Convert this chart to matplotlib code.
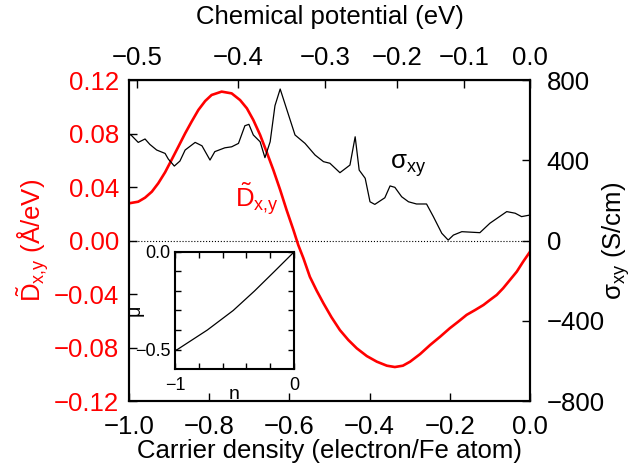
import numpy as np
import matplotlib
matplotlib.use("Agg")
import matplotlib.pyplot as plt

plt.rcParams['font.family'] = ['Liberation Sans', 'DejaVu Sans']
plt.rcParams['mathtext.fontset'] = 'custom'
plt.rcParams['mathtext.rm'] = 'Liberation Sans'
plt.rcParams['mathtext.it'] = 'Liberation Sans:italic'
plt.rcParams['axes.unicode_minus'] = True

# ---- data ----
# red curve: D~_{x,y} (A/eV) vs carrier density n
n_D = [-1.0, -0.977, -0.960, -0.943, -0.927, -0.910, -0.894, -0.877, -0.860, -0.844,
       -0.827, -0.810, -0.794, -0.769, -0.744, -0.723, -0.706, -0.690, -0.673, -0.657,
       -0.640, -0.623, -0.607, -0.590, -0.578, -0.565, -0.549, -0.532, -0.515, -0.495,
       -0.474, -0.453, -0.432, -0.407, -0.382, -0.357, -0.337, -0.317, -0.299, -0.274,
       -0.249, -0.224, -0.200, -0.179, -0.158, -0.137, -0.116, -0.100, -0.083, -0.067,
       -0.050, -0.033, -0.017, 0.0]
D_vals = [0.0278, 0.0290, 0.0320, 0.0365, 0.0428, 0.0510, 0.0602, 0.0701, 0.0801, 0.0888,
          0.0976, 0.1043, 0.1088, 0.1113, 0.1100, 0.1050, 0.0988, 0.0901, 0.0789, 0.0664,
          0.0527, 0.0378, 0.0228, 0.0079, -0.0033, -0.0133, -0.0271, -0.0375, -0.0470, -0.0574,
          -0.0670, -0.0744, -0.0806, -0.0864, -0.0906, -0.0936, -0.0946, -0.0936, -0.0906, -0.0849,
          -0.0781, -0.0719, -0.0656, -0.0607, -0.0556, -0.0520, -0.0482, -0.0445, -0.0407, -0.0357,
          -0.0295, -0.0233, -0.0158, -0.0084]

# black curve: sigma_xy (S/cm) vs carrier density n
n_sig = [-1.0, -0.995, -0.977, -0.960, -0.948, -0.931, -0.910, -0.902, -0.887, -0.873,
         -0.860, -0.835, -0.818, -0.798, -0.786, -0.761, -0.744, -0.727, -0.711, -0.701,
         -0.690, -0.673, -0.661, -0.648, -0.636, -0.623, -0.602, -0.586, -0.561,
         -0.536, -0.515, -0.499, -0.474, -0.449, -0.436, -0.426, -0.411, -0.399, -0.387,
         -0.362, -0.349, -0.337, -0.320, -0.303, -0.283, -0.258, -0.241, -0.220, -0.204,
         -0.191, -0.170, -0.125, -0.100, -0.058, -0.037, -0.021, 0.0]
sig_vals = [528, 526, 489, 506, 479, 451, 434, 406, 371, 396,
            451, 489, 472, 401, 443, 462, 467, 484, 572, 579,
            526, 492, 413, 492, 672, 755, 625, 526, 484,
            426, 393, 385, 338, 376, 517, 351, 310, 193, 180,
            213, 272, 265, 218, 193, 182, 182, 119, 36, 2,
            27, 44, 39, 86, 144, 136, 119, 127]

# inset: chemical potential mu (eV) vs carrier density n (also top-axis mapping)
n_mu = [-1.0, -0.98, -0.728, -0.511, -0.332, -0.165, 0.0]
mu_vals = [-0.505, -0.5, -0.4, -0.3, -0.2, -0.1, 0.0]

bottom_ticks = [-1.0, -0.8, -0.6, -0.4, -0.2, 0.0]
top_ticks = [-0.5, -0.4, -0.3, -0.2, -0.1, 0.0]
left_ticks = [-0.12, -0.08, -0.04, 0.0, 0.04, 0.08, 0.12]
right_ticks = [-800, -400, 0, 400, 800]

FS = 18.5
fig = plt.figure(figsize=(6.31, 4.73), dpi=100)
ax = fig.add_axes([129/631, 1-401/473, 401/631, 321/473])
ax.set_xlim(-1.0, 0.0)
ax.set_ylim(-0.12, 0.12)
ax.axhline(0, color='black', ls=':', lw=0.8, zorder=1)
ax.plot(n_D, D_vals, color='red', lw=1.9, zorder=3)
ax.set_xticks(bottom_ticks)
ax.set_xticklabels([f"{t:.1f}".replace('-', '\u2212') for t in bottom_ticks])
ax.set_yticks(left_ticks)
ax.set_yticklabels([f"{t:.2f}".replace('-', '\u2212') for t in left_ticks])
ax.tick_params(axis='both', direction='in', length=6, width=1, labelsize=FS)
ax.tick_params(axis='x', pad=10, top=False)
ax.tick_params(axis='y', labelcolor='red', pad=7, right=False)
ax.set_xlabel('Carrier density (electron/Fe atom)', fontsize=FS, labelpad=0)
ax.set_ylabel(r'$\tilde{\mathrm{D}}_{\mathrm{x{,}y}}$ (Å/eV)', color='red', fontsize=FS, labelpad=2)
for s in ax.spines.values():
    s.set_linewidth(1.5)

ax2 = ax.twinx()
ax2.set_ylim(-800, 800)
ax2.plot(n_sig, sig_vals, color='black', lw=0.9, zorder=2)
ax2.set_yticks(right_ticks)
ax2.set_yticklabels([str(t).replace('-', '\u2212') for t in right_ticks])
ax2.tick_params(axis='y', direction='in', length=6, width=1, labelsize=FS, pad=12)
ax2.set_ylabel('σ$_{\\mathrm{xy}}$ (S/cm)', fontsize=FS, labelpad=-3)
for s in ax2.spines.values():
    s.set_linewidth(1.5)

def fwd(x):
    return np.interp(x, n_mu, mu_vals)

def inv(x):
    return np.interp(x, mu_vals, n_mu)

sec = ax.secondary_xaxis('top', functions=(fwd, inv))
sec.set_xticks(top_ticks)
sec.set_xticklabels([f"{t:.1f}".replace('-', '\u2212') for t in top_ticks])
sec.tick_params(direction='in', length=6, width=1, labelsize=FS, pad=7)
sec.set_xlabel('Chemical potential (eV)', fontsize=FS, labelpad=16)

ax2.text(-0.349, 373, 'σ$_{\\mathrm{xy}}$', fontsize=FS, color='black',
         ha='left', va='center')
ax.text(-0.736, 0.031, r'$\tilde{\mathrm{D}}_{\mathrm{x{,}y}}$', fontsize=FS, color='red',
        ha='left', va='center')

# inset
axi = fig.add_axes([175/631, 1-369/473, 119/631, 117/473])
axi.set_zorder(10)
axi.plot(n_mu, mu_vals, color='black', lw=0.9)
axi.set_xlim(-1, 0)
axi.set_ylim(-0.6, 0.0)
axi.set_xticks([-1, -0.8, -0.6, -0.4, -0.2, 0])
axi.set_xticklabels(['\u22121', '', '', '', '', '0'])
axi.set_yticks([-0.5, -0.4, -0.3, -0.2, -0.1, 0.0])
axi.set_yticklabels(['\u22120.5', '', '', '', '', '0.0'])
axi.tick_params(direction='in', length=4, width=1, labelsize=13, top=True, right=True, pad=3)
axi.tick_params(axis='x', pad=6)
axi.set_xlabel('n', fontsize=14, labelpad=-6)
axi.set_ylabel('μ', fontsize=14, labelpad=-6)
for s in axi.spines.values():
    s.set_linewidth(1.5)

fig.savefig('out.png', dpi=100)
